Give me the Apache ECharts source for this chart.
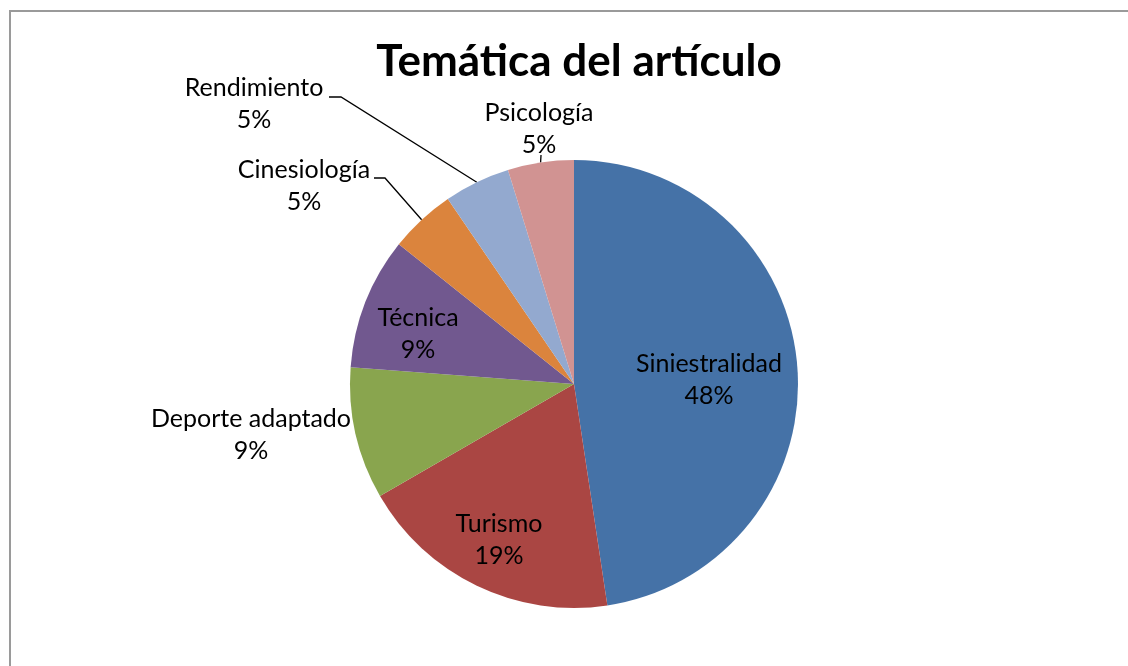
<!DOCTYPE html>
<html>
<head>
<meta charset="utf-8">
<script src="https://cdn.jsdelivr.net/npm/echarts@6/dist/echarts.min.js"></script>
<style>
  html, body { margin: 0; padding: 0; background: #fff; }
  #main { width: 1128px; height: 666px; }
</style>
</head>
<body>
<div id="main"></div>
<script>
// slice sizes (article counts), and the percent text printed on each label
var categories = ['Siniestralidad', 'Turismo', 'Deporte adaptado', 'Técnica', 'Cinesiología', 'Rendimiento', 'Psicología'];
var values = [10, 4, 2, 2, 1, 1, 1];
var pctLabels = ['48%', '19%', '9%', '9%', '5%', '5%', '5%'];
var colors = ['#4572A7', '#AA4643', '#89A54E', '#71588F', '#DB843D', '#93A9CF', '#D19392'];

// where each label sits (centre of the two-line block), and leader lines
var labelSpots = {
  'Siniestralidad': [709, 380],
  'Turismo': [499, 540],
  'Deporte adaptado': [251, 435],
  'Técnica': [418, 334],
  'Cinesiología': [304, 186],
  'Rendimiento': [254, 104],
  'Psicología': [539, 129]
};
var leaders = {
  'Cinesiología': [[374, 178], [385, 178]],
  'Rendimiento': [[329, 97], [341, 97]],
  'Psicología': [[541, 155], [541, 155]]
};

var chart = echarts.init(document.getElementById('main'), null, { renderer: 'canvas' });

var pieData = [];
for (var i = 0; i < categories.length; i++) {
  pieData.push({
    name: categories[i],
    value: values[i],
    itemStyle: { color: colors[i] },
    labelLine: { show: !!leaders[categories[i]] }
  });
}

var option = {
  backgroundColor: '#fff',
  animation: false,
  title: {
    text: 'Temática del artículo',
    left: 574,
    top: 35,
    textAlign: 'center',
    textStyle: { fontFamily: 'Lato', fontWeight: 'bold', fontSize: 44, color: '#000' }
  },
  graphic: [{
    type: 'rect',
    shape: { x: 10, y: 11, width: 1300, height: 900 },
    style: { fill: 'none', stroke: '#9a9a9a', lineWidth: 2 },
    silent: true
  }],
  series: [{
    type: 'pie',
    center: [574, 384],
    radius: 224,
    startAngle: 90,
    clockwise: true,
    data: pieData,
    itemStyle: { borderWidth: 0 },
    label: {
      show: true,
      position: 'outside',
      formatter: function (p) { return p.name + '\n' + pctLabels[p.dataIndex]; },
      fontFamily: 'Lato',
      fontSize: 25,
      lineHeight: 32,
      color: '#000',
      align: 'center'
    },
    labelLine: {
      show: true,
      lineStyle: { color: '#000', width: 1.3 }
    },
    labelLayout: function (params) {
      var name = categories[params.dataIndex];
      var spot = labelSpots[name];
      var res = { x: spot[0], y: spot[1], align: 'center', verticalAlign: 'middle', hideOverlap: false };
      if (leaders[name] && params.labelLinePoints) {
        var p0 = params.labelLinePoints[0];
        res.labelLinePoints = [leaders[name][0], leaders[name][1], p0];
      }
      return res;
    }
  }]
};

chart.setOption(option);
</script>
</body>
</html>
